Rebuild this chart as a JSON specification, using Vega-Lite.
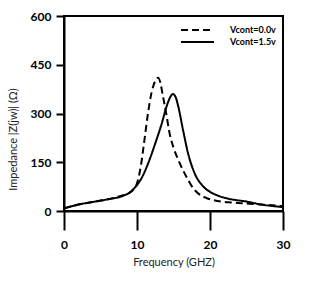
{
  "$schema": "https://vega.github.io/schema/vega-lite/v6.json",
  "width": 219,
  "height": 195,
  "autosize": "none",
  "padding": {"left": 64, "top": 16, "right": 26, "bottom": 72},
  "background": "white",
  "config": {
    "view": {"stroke": "black", "strokeWidth": 2},
    "font": "Lato"
  },
  "data": {
    "values": [
      {"f": 0, "z": 8, "s": "Vcont=0.0v"},
      {"f": 2, "z": 20, "s": "Vcont=0.0v"},
      {"f": 4, "z": 28, "s": "Vcont=0.0v"},
      {"f": 6, "z": 36, "s": "Vcont=0.0v"},
      {"f": 8, "z": 48, "s": "Vcont=0.0v"},
      {"f": 9, "z": 56, "s": "Vcont=0.0v"},
      {"f": 9.5, "z": 66, "s": "Vcont=0.0v"},
      {"f": 10, "z": 85, "s": "Vcont=0.0v"},
      {"f": 10.5, "z": 135, "s": "Vcont=0.0v"},
      {"f": 11, "z": 215, "s": "Vcont=0.0v"},
      {"f": 11.5, "z": 300, "s": "Vcont=0.0v"},
      {"f": 12, "z": 365, "s": "Vcont=0.0v"},
      {"f": 12.5, "z": 400, "s": "Vcont=0.0v"},
      {"f": 12.9, "z": 410, "s": "Vcont=0.0v"},
      {"f": 13.2, "z": 395, "s": "Vcont=0.0v"},
      {"f": 13.5, "z": 360, "s": "Vcont=0.0v"},
      {"f": 14, "z": 300, "s": "Vcont=0.0v"},
      {"f": 14.5, "z": 235, "s": "Vcont=0.0v"},
      {"f": 15, "z": 195, "s": "Vcont=0.0v"},
      {"f": 15.7, "z": 155, "s": "Vcont=0.0v"},
      {"f": 16.8, "z": 104, "s": "Vcont=0.0v"},
      {"f": 17.7, "z": 70, "s": "Vcont=0.0v"},
      {"f": 18.5, "z": 52, "s": "Vcont=0.0v"},
      {"f": 19.5, "z": 40, "s": "Vcont=0.0v"},
      {"f": 21, "z": 31, "s": "Vcont=0.0v"},
      {"f": 23, "z": 26, "s": "Vcont=0.0v"},
      {"f": 25, "z": 23, "s": "Vcont=0.0v"},
      {"f": 27, "z": 20, "s": "Vcont=0.0v"},
      {"f": 30, "z": 15, "s": "Vcont=0.0v"},
      {"f": 0, "z": 8, "s": "Vcont=1.5v"},
      {"f": 2, "z": 20, "s": "Vcont=1.5v"},
      {"f": 4, "z": 28, "s": "Vcont=1.5v"},
      {"f": 6, "z": 36, "s": "Vcont=1.5v"},
      {"f": 8, "z": 46, "s": "Vcont=1.5v"},
      {"f": 9, "z": 57, "s": "Vcont=1.5v"},
      {"f": 10, "z": 80, "s": "Vcont=1.5v"},
      {"f": 10.6, "z": 100, "s": "Vcont=1.5v"},
      {"f": 11.5, "z": 145, "s": "Vcont=1.5v"},
      {"f": 12.5, "z": 208, "s": "Vcont=1.5v"},
      {"f": 13.4, "z": 270, "s": "Vcont=1.5v"},
      {"f": 14, "z": 318, "s": "Vcont=1.5v"},
      {"f": 14.5, "z": 348, "s": "Vcont=1.5v"},
      {"f": 14.9, "z": 360, "s": "Vcont=1.5v"},
      {"f": 15.3, "z": 350, "s": "Vcont=1.5v"},
      {"f": 15.65, "z": 322, "s": "Vcont=1.5v"},
      {"f": 16.3, "z": 250, "s": "Vcont=1.5v"},
      {"f": 17, "z": 177, "s": "Vcont=1.5v"},
      {"f": 17.9, "z": 116, "s": "Vcont=1.5v"},
      {"f": 19.1, "z": 75, "s": "Vcont=1.5v"},
      {"f": 20, "z": 59, "s": "Vcont=1.5v"},
      {"f": 20.9, "z": 49, "s": "Vcont=1.5v"},
      {"f": 22.3, "z": 39, "s": "Vcont=1.5v"},
      {"f": 25, "z": 29, "s": "Vcont=1.5v"},
      {"f": 27, "z": 20, "s": "Vcont=1.5v"},
      {"f": 30, "z": 12, "s": "Vcont=1.5v"}
    ]
  },
  "mark": {"type": "line", "color": "black", "strokeWidth": 2, "interpolate": "monotone"},
  "encoding": {
    "x": {
      "field": "f", "type": "quantitative",
      "scale": {"domain": [0, 30], "nice": false},
      "axis": {
        "values": [0, 10, 20, 30], "grid": false,
        "title": "Frequency (GHZ)",
        "tickSize": 19, "tickWidth": 2, "tickColor": "black",
        "domainColor": "black", "domainWidth": 2,
        "labelFont": "Lato", "labelFontSize": 12, "labelFontWeight": "bold", "labelColor": "black",
        "labelPadding": 9, "labelFlush": false,
        "titleFont": "Lato", "titleFontSize": 11, "titleFontWeight": "normal", "titleColor": "#222",
        "titlePadding": 6
      }
    },
    "y": {
      "field": "z", "type": "quantitative",
      "scale": {"domain": [0, 600], "nice": false},
      "axis": {
        "values": [0, 150, 300, 450, 600], "grid": false,
        "title": "Impedance  |Z(jw)| (Ω)",
        "tickSize": 8, "tickWidth": 2, "tickColor": "black",
        "domainColor": "black", "domainWidth": 2,
        "labelFont": "Lato", "labelFontSize": 12, "labelFontWeight": "bold", "labelColor": "black",
        "labelPadding": 5,
        "titleFont": "Lato", "titleFontSize": 11, "titleFontWeight": "normal", "titleColor": "#222",
        "titleX": -51, "titleY": 123, "titleAnchor": "middle", "titleBaseline": "middle"
      }
    },
    "strokeDash": {
      "field": "s", "type": "nominal",
      "scale": {"domain": ["Vcont=0.0v", "Vcont=1.5v"], "range": [[7, 4], [1, 0]]},
      "legend": {
        "title": null, "orient": "none", "legendX": 116, "legendY": 9,
        "symbolType": "stroke", "symbolSize": 1089, "symbolStrokeWidth": 2,
        "symbolStrokeColor": "black", "clipHeight": 10,
        "labelFont": "Lato", "labelFontSize": 9, "labelFontWeight": "bold", "labelColor": "black",
        "labelOffset": 15, "rowPadding": 2
      }
    }
  }
}
